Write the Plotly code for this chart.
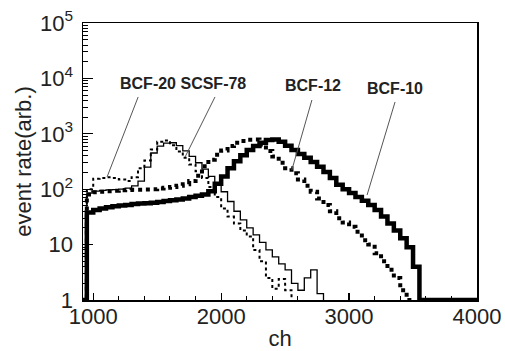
import plotly.graph_objects as go

# ---------------- data ----------------
channels = list(range(900, 4001, 50))  # histogram bin starts (ch)

bcf10 = [1, 38, 42, 45, 47, 49, 51, 52, 54, 55, 56,
         57, 59, 61, 63, 65, 68, 72, 76, 80, 92,
         125, 170, 240, 320, 410, 510, 600, 690, 770, 790,
         720, 610, 510, 430, 370, 310, 255, 205, 160, 120,
         100, 85, 72, 62, 52, 42, 32, 24, 18, 13,
         9, 4, 1, 1, 1, 1, 1, 1, 1, 1, 1, 1]

bcf12 = [1, 80, 88, 90, 92, 94, 96, 97, 98, 98, 99,
         100, 103, 106, 110, 116, 123, 140, 175, 260, 340,
         420, 500, 600, 690, 740, 780, 790, 640, 490, 390,
         300, 240, 195, 150, 115, 90, 68, 52, 40, 30,
         25, 21, 17, 12, 10, 7, 5, 3.5, 2.5, 1.5,
         1, 1]

bcf20 = [1, 100, 155, 160, 165, 160, 150, 140, 165, 240, 330,
         520, 720, 760, 620, 480, 370, 280, 210, 160, 110,
         72, 45, 32, 24, 18, 14, 8, 5, 2.5, 1.6,
         2.4, 1.5, 1]

scsf78 = [1, 85, 92, 95, 97, 98, 100, 105, 115, 140, 250,
          450, 600, 680, 690, 610, 490, 390, 300, 230, 170,
          130, 90, 60, 40, 28, 20, 15, 11, 8, 6,
          4.5, 3.5, 2, 1.5, 2.5, 3.5, 1.3, 1]

x_ticks = [1000, 2000, 3000, 4000]
y_ticks = [1, 10, 100, 1000, 10000, 100000]
y_ticktext = ["1", "10", "10<sup>2</sup>", "10<sup>3</sup>", "10<sup>4</sup>", "10<sup>5</sup>"]
y_minor = [m * 10 ** e for e in range(5) for m in range(2, 10)]

label_group = "BCF-20 SCSF-78"
label_12 = "BCF-12"
label_10 = "BCF-10"

FONT = "Liberation Sans, Arial, Helvetica, sans-serif"

fig = go.Figure()

fig.add_trace(go.Scatter(
    x=channels[:len(scsf78)], y=scsf78, mode="lines", line_shape="hv",
    line=dict(color="black", width=1.3), name="SCSF-78"))
fig.add_trace(go.Scatter(
    x=channels[:len(bcf20)], y=bcf20, mode="lines", line_shape="hv",
    line=dict(color="black", width=2, dash="dot"), name="BCF-20"))
fig.add_trace(go.Scatter(
    x=channels[:len(bcf12)], y=bcf12, mode="lines", line_shape="hv",
    line=dict(color="black", width=4, dash="dot"), name="BCF-12"))
fig.add_trace(go.Scatter(
    x=channels[:len(bcf10)], y=bcf10, mode="lines", line_shape="hv",
    line=dict(color="black", width=4.5), name="BCF-10"))

# leader lines (paper coordinates)
leaders = [
    (0.140, 0.733, 0.061, 0.444),
    (0.335, 0.733, 0.259, 0.516),
    (0.581, 0.722, 0.530, 0.469),
    (0.792, 0.715, 0.721, 0.379),
]
for x0, y0, x1, y1 in leaders:
    fig.add_shape(type="line", xref="paper", yref="paper",
                  x0=x0, y0=y0, x1=x1, y1=y1,
                  line=dict(color="#555555", width=1))

labels = [(label_group, 0.254, 0.783), (label_12, 0.584, 0.773), (label_10, 0.792, 0.765)]
for txt, xp, yp in labels:
    fig.add_annotation(text="<b>%s</b>" % txt, xref="paper", yref="paper",
                       x=xp, y=yp, xanchor="center", yanchor="middle", showarrow=False,
                       font=dict(family=FONT, size=16, color="#222222"))

fig.update_layout(
    width=505, height=351,
    margin=dict(l=83, r=28, t=23, b=51),
    paper_bgcolor="white", plot_bgcolor="white",
    showlegend=False,
    font=dict(family=FONT, color="#222222"),
)

fig.update_xaxes(
    range=[920, 4000], tickvals=x_ticks, ticks="inside", ticklen=7, tickwidth=1.2,
    tickcolor="black", showline=True, linecolor="black", linewidth=1.5, mirror=True,
    showgrid=False, zeroline=False, tickfont=dict(size=22, family=FONT),
    automargin=False, ticklabeloverflow="allow", ticklabelstandoff=-4,
    minor=dict(dtick=200, tick0=0, ticks="inside", ticklen=4, tickwidth=1, tickcolor="black", showgrid=False),
    title=dict(text="ch", font=dict(size=22, family=FONT), standoff=2),
)
fig.update_yaxes(
    type="log", range=[0, 5], tickvals=y_ticks, ticktext=y_ticktext,
    ticks="inside", ticklen=10, tickwidth=1.2, tickcolor="black",
    showline=True, linecolor="black", linewidth=1.5, mirror=True,
    showgrid=False, zeroline=False, tickfont=dict(size=22, family=FONT),
    ticklabelstandoff=4, automargin=False, ticklabeloverflow="allow",
    minor=dict(tickvals=y_minor, ticks="inside", ticklen=5, tickwidth=1, tickcolor="black", showgrid=False),
    title=dict(text="event rate(arb.)", font=dict(size=22, family=FONT), standoff=2),
)

fig.write_html(
    "out.html",
    config={"displayModeBar": False, "staticPlot": True},
    post_script="document.body.style.margin='0';document.body.style.overflow='hidden';",
)
